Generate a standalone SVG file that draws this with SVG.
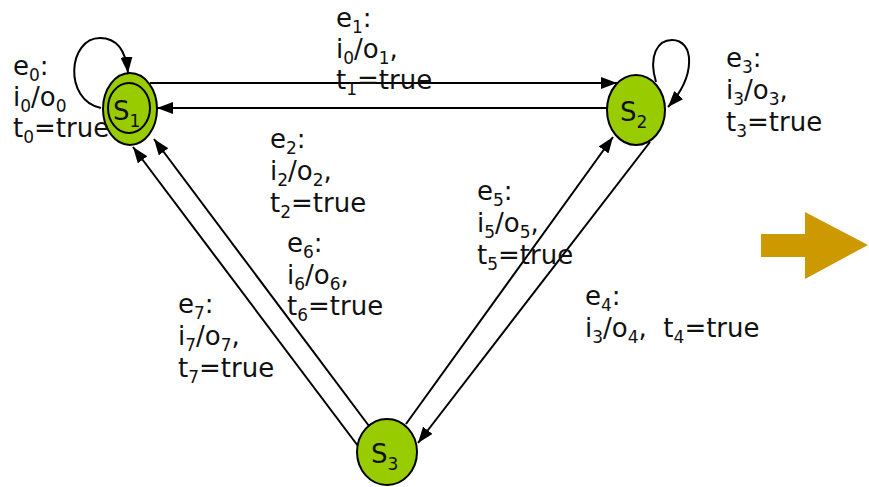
<svg xmlns="http://www.w3.org/2000/svg" width="869" height="487" viewBox="0 0 869 487">
<style>
.st{fill:#99CC00;stroke:#000;stroke-width:2}
.in{fill:none;stroke:#000;stroke-width:2}
.ln{fill:none;stroke:#000;stroke-width:2}
text{font-family:"DejaVu Sans",Verdana,sans-serif;font-size:26px;fill:#111}
.sub{font-size:17px}
</style>
<defs>
<marker id="ah" viewBox="0 0 16 12" refX="16" refY="6" markerWidth="16" markerHeight="12" markerUnits="userSpaceOnUse" orient="auto">
<path d="M0,0 L16,6 L0,12 Z" fill="#000"/>
</marker>
</defs>
<rect width="869" height="487" fill="#fff"/>
<g id="s1">
<ellipse class="st" cx="130" cy="109" rx="27" ry="36"/>
<ellipse class="in" cx="129" cy="108" rx="21" ry="25"/>
<text x="113" y="120">S<tspan class="sub" dy="7">1</tspan></text>
</g>
<g id="s2">
<ellipse class="st" cx="636" cy="110" rx="29" ry="35"/>
<text x="620" y="121">S<tspan class="sub" dy="7">2</tspan></text>
</g>
<g id="s3">
<ellipse class="st" cx="387" cy="452" rx="30" ry="33"/>
<text x="371" y="463">S<tspan class="sub" dy="7">3</tspan></text>
</g>
<g id="connectors">
<path class="ln" d="M101,108 C63,100 68,38 100,38 C118,38 126,52 128,73" marker-end="url(#ah)"/>
<path class="ln" d="M150,83 L617,83" marker-end="url(#ah)"/>
<path class="ln" d="M607,108 L157,108" marker-end="url(#ah)"/>
<path class="ln" d="M656,82 C648,55 658,40 672,40 C694,40 697,75 668,107" marker-end="url(#ah)"/>
<path class="ln" d="M358,446 L133,147" marker-end="url(#ah)"/>
<path class="ln" d="M369,426 L154,139" marker-end="url(#ah)"/>
<path class="ln" d="M406,424 L613,137" marker-end="url(#ah)"/>
<path class="ln" d="M650,142 L418,443" marker-end="url(#ah)"/>
</g>
<g id="labels">
<text x="13" y="75">e<tspan class="sub" dy="6">0</tspan><tspan dy="-6">:</tspan></text>
<text x="13" y="106">i<tspan class="sub" dy="6">0</tspan><tspan dy="-6">/o</tspan><tspan class="sub" dy="6">0</tspan></text>
<text x="13" y="137">t<tspan class="sub" dy="6">0</tspan><tspan dy="-6">=true</tspan></text>

<text x="336" y="27">e<tspan class="sub" dy="6">1</tspan><tspan dy="-6">:</tspan></text>
<text x="336" y="58">i<tspan class="sub" dy="6">0</tspan><tspan dy="-6">/o</tspan><tspan class="sub" dy="6">1</tspan><tspan dy="-6">,</tspan></text>
<text x="336" y="89">t<tspan class="sub" dy="6">1</tspan><tspan dy="-6">=true</tspan></text>

<text x="270" y="148">e<tspan class="sub" dy="6">2</tspan><tspan dy="-6">:</tspan></text>
<text x="270" y="180">i<tspan class="sub" dy="6">2</tspan><tspan dy="-6">/o</tspan><tspan class="sub" dy="6">2</tspan><tspan dy="-6">,</tspan></text>
<text x="270" y="212">t<tspan class="sub" dy="6">2</tspan><tspan dy="-6">=true</tspan></text>

<text x="726" y="67">e<tspan class="sub" dy="6">3</tspan><tspan dy="-6">:</tspan></text>
<text x="726" y="99">i<tspan class="sub" dy="6">3</tspan><tspan dy="-6">/o</tspan><tspan class="sub" dy="6">3</tspan><tspan dy="-6">,</tspan></text>
<text x="726" y="131">t<tspan class="sub" dy="6">3</tspan><tspan dy="-6">=true</tspan></text>

<text x="585" y="305">e<tspan class="sub" dy="6">4</tspan><tspan dy="-6">:</tspan></text>
<text x="585" y="337" xml:space="preserve">i<tspan class="sub" dy="6">3</tspan><tspan dy="-6">/o</tspan><tspan class="sub" dy="6">4</tspan><tspan dy="-6">,  t</tspan><tspan class="sub" dy="6">4</tspan><tspan dy="-6">=true</tspan></text>

<text x="477" y="200">e<tspan class="sub" dy="6">5</tspan><tspan dy="-6">:</tspan></text>
<text x="477" y="232">i<tspan class="sub" dy="6">5</tspan><tspan dy="-6">/o</tspan><tspan class="sub" dy="6">5</tspan><tspan dy="-6">,</tspan></text>
<text x="477" y="264">t<tspan class="sub" dy="6">5</tspan><tspan dy="-6">=true</tspan></text>

<text x="287" y="252">e<tspan class="sub" dy="6">6</tspan><tspan dy="-6">:</tspan></text>
<text x="287" y="284">i<tspan class="sub" dy="6">6</tspan><tspan dy="-6">/o</tspan><tspan class="sub" dy="6">6</tspan><tspan dy="-6">,</tspan></text>
<text x="287" y="315">t<tspan class="sub" dy="6">6</tspan><tspan dy="-6">=true</tspan></text>

<text x="178" y="313">e<tspan class="sub" dy="6">7</tspan><tspan dy="-6">:</tspan></text>
<text x="178" y="345">i<tspan class="sub" dy="6">7</tspan><tspan dy="-6">/o</tspan><tspan class="sub" dy="6">7</tspan><tspan dy="-6">,</tspan></text>
<text x="178" y="377">t<tspan class="sub" dy="6">7</tspan><tspan dy="-6">=true</tspan></text>
</g>
<g id="bigarrow">
<polygon points="761,234 805,234 805,212 868,245 805,279 805,257 761,257" fill="#CC9900"/>
</g>
</svg>
